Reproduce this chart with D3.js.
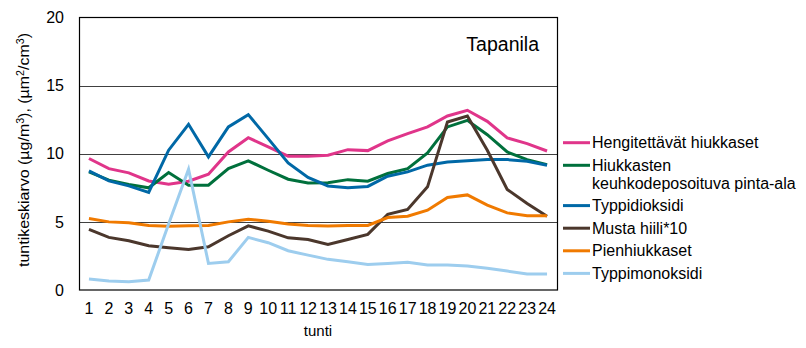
<!DOCTYPE html>
<html><head><meta charset="utf-8">
<script src="https://cdn.jsdelivr.net/npm/d3@7"></script>
<style>body{margin:0;background:#fff}svg{display:block;font-family:"Liberation Sans",Arial,sans-serif}</style>
</head><body><svg id="c" width="806" height="348"></svg>
<script>
const hours = ["1","2","3","4","5","6","7","8","9","10","11","12","13","14","15","16","17","18","19","20","21","22","23","24"];
const yTicks = [0,5,10,15,20];
const seriesNames = [["Hengitettävät hiukkaset"],["Hiukkasten","keuhkodeposoituva pinta-ala"],["Typpidioksidi"],["Musta hiili*10"],["Pienhiukkaset"],["Typpimonoksidi"]];
const colors = ["#e0358a","#00703c","#0068a6","#4b372c","#f07a00","#9dcdee"];
const hengitettavat = [9.65,8.91,8.6,8.0,7.77,7.98,8.5,10.13,11.18,10.5,9.82,9.82,9.89,10.3,10.23,10.94,11.48,11.97,12.77,13.19,12.38,11.16,10.74,10.2];
const keuhko = [8.67,8.06,7.74,7.5,8.62,7.69,7.69,8.91,9.48,8.79,8.13,7.86,7.88,8.1,7.98,8.55,8.91,10.06,11.97,12.45,11.4,10.13,9.57,9.2];
const typpidioksidi = [8.74,8.01,7.64,7.16,10.26,12.16,9.77,11.97,12.87,11.11,9.33,8.26,7.64,7.5,7.6,8.35,8.67,9.16,9.4,9.48,9.57,9.57,9.45,9.16];
const mustaHiili = [4.45,3.86,3.61,3.25,3.1,2.98,3.17,3.98,4.71,4.32,3.83,3.71,3.35,3.71,4.08,5.55,5.91,7.57,12.33,12.77,10.26,7.38,6.35,5.42];
const pienhiukkaset = [5.25,5.0,4.93,4.74,4.67,4.72,4.74,5.0,5.2,5.05,4.84,4.74,4.69,4.74,4.74,5.32,5.42,5.86,6.79,6.98,6.23,5.66,5.45,5.45];
const typpimonoksidi = [0.8,0.66,0.61,0.73,4.84,8.86,1.95,2.07,3.86,3.47,2.88,2.56,2.25,2.07,1.88,1.95,2.03,1.83,1.83,1.76,1.59,1.39,1.17,1.17];
const allSeries = [hengitettavat,keuhko,typpidioksidi,mustaHiili,pienhiukkaset,typpimonoksidi];

const svg = d3.select("#c");
const L=79, R=557, T=17.5, B=290;
const x = d3.scaleBand().domain(hours).range([L,R]);
const y = d3.scaleLinear().domain([0,20]).range([B,T]);

// gridlines
svg.append("g").selectAll("line").data(yTicks.filter(v=>v>0&&v<20)).join("line")
  .attr("x1",L).attr("x2",R).attr("y1",d=>Math.round(y(d))+0.5).attr("y2",d=>Math.round(y(d))+0.5)
  .attr("stroke","#404040").attr("stroke-width",1);

// y axis
const ya = svg.append("g").attr("transform",`translate(${L},0)`)
  .call(d3.axisLeft(y).tickValues(yTicks).tickSize(0).tickPadding(15));
ya.select(".domain").remove();
ya.selectAll("text").attr("font-size",16).attr("fill","#000").attr("font-family","Liberation Sans, Arial, sans-serif");

// x axis
const xa = svg.append("g").attr("transform",`translate(0,${B})`)
  .call(d3.axisBottom(x).tickSize(0).tickPadding(13));
xa.select(".domain").remove();
xa.selectAll("text").attr("font-size",16).attr("fill","#000").attr("font-family","Liberation Sans, Arial, sans-serif");

// lines
const line = d3.line().x((d,i)=>x(hours[i])+x.bandwidth()/2).y(d=>y(d));
svg.append("g").selectAll("path").data(allSeries).join("path")
  .attr("d",d=>line(d)).attr("fill","none")
  .attr("stroke",(d,i)=>colors[i]).attr("stroke-width",3).attr("stroke-linejoin","miter");

// plot border
svg.append("rect").attr("x",L+0.5).attr("y",T).attr("width",R-L).attr("height",B-T)
  .attr("fill","none").attr("stroke","#000").attr("stroke-width",1.2);

// title inside
svg.append("text").attr("x",539).attr("y",51).attr("text-anchor","end")
  .attr("font-size",19.5).text("Tapanila");

// axis titles
svg.append("text").attr("x",318).attr("y",336).attr("text-anchor","middle").attr("font-size",15).text("tunti");
const yt = svg.append("text").attr("transform","translate(29,150) rotate(-90)")
  .attr("text-anchor","middle").attr("font-size",15)
  .attr("textLength",234).attr("lengthAdjust","spacingAndGlyphs");
yt.append("tspan").text("tuntikeskiarvo (µg/m");
yt.append("tspan").attr("baseline-shift","super").attr("font-size",10).text("3");
yt.append("tspan").text("), (µm");
yt.append("tspan").attr("baseline-shift","super").attr("font-size",10).text("2");
yt.append("tspan").text("/cm");
yt.append("tspan").attr("baseline-shift","super").attr("font-size",10).text("3");
yt.append("tspan").text(")");

// legend
const lg = svg.append("g");
let ly = 142.7;
seriesNames.forEach((names,i)=>{
  lg.append("line").attr("x1",563).attr("x2",590).attr("y1",ly).attr("y2",ly)
    .attr("stroke",colors[i]).attr("stroke-width",3);
  names.forEach((nm,j)=>{
    lg.append("text").attr("x",592).attr("y",ly+j*17.7).attr("dy","0.35em")
      .attr("font-size",16).text(nm);
  });
  ly += 22.6 + (names.length-1)*17.7;
});
</script></body></html>
